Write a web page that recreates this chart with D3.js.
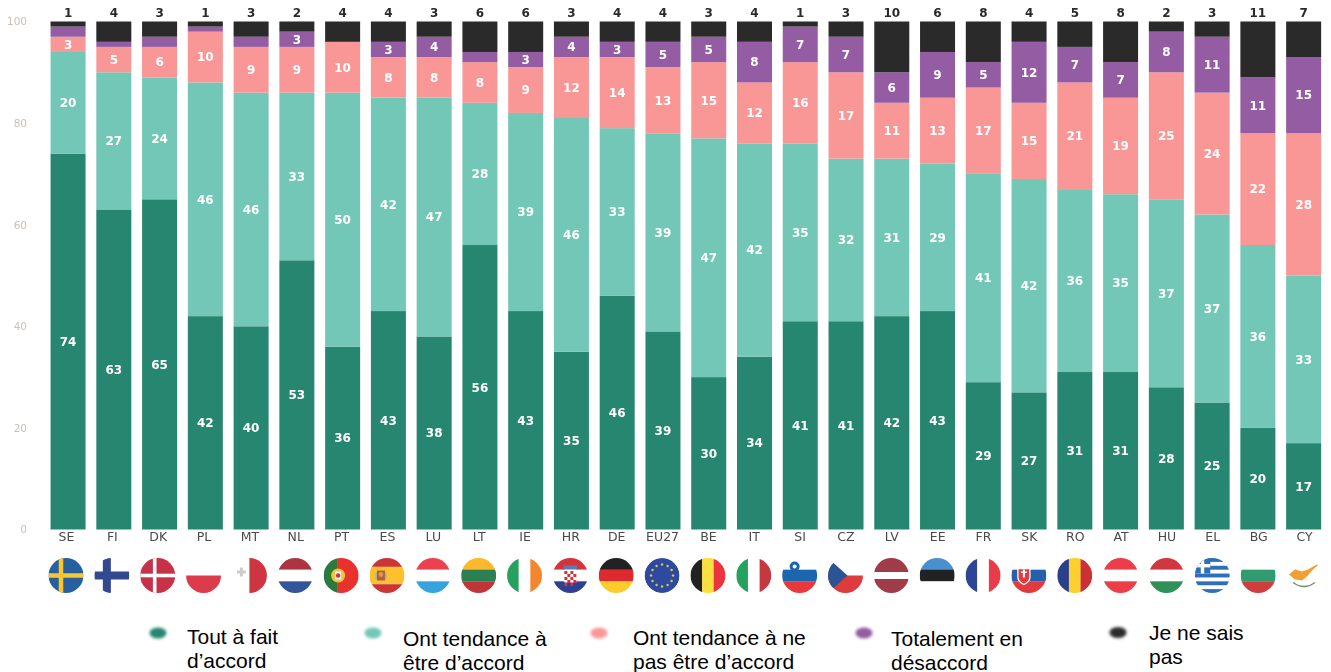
<!DOCTYPE html>
<html lang="fr">
<head>
<meta charset="utf-8">
<script src="https://cdn.jsdelivr.net/npm/d3@7"></script>
<style>
html,body{margin:0;padding:0;background:#fff;overflow:hidden}
svg{display:block}
</style>
</head>
<body>
<svg id="c" width="1331" height="672"></svg>
<script>
const countries = ["SE","FI","DK","PL","MT","NL","PT","ES","LU","LT","IE","HR","DE","EU27","BE","IT","SI","CZ","LV","EE","FR","SK","RO","AT","HU","EL","BG","CY"];
const toutAFait   = [74,63,65,42,40,53,36,43,38,56,43,35,46,39,30,34,41,41,42,43,29,27,31,31,28,25,20,17];
const plutotAccord= [20,27,24,46,46,33,50,42,47,28,39,46,33,39,47,42,35,32,31,29,41,42,36,35,37,37,36,33];
const plutotNon   = [3,5,6,10,9,9,10,8,8,8,9,12,14,13,15,12,16,17,11,13,17,15,21,19,25,24,22,28];
const totalement  = [2,1,2,1,2,3,0,3,4,2,3,4,3,5,5,8,7,7,6,9,5,12,7,7,8,11,11,15];
const neSaisPas   = [1,4,3,1,3,2,4,4,3,6,6,3,4,4,3,4,1,3,10,6,8,4,5,8,2,3,11,7];
const seriesNames = ["Tout à fait d’accord","Ont tendance à être d’accord","Ont tendance à ne pas être d’accord","Totalement en désaccord","Je ne sais pas"];
const seriesColors = ["#28866f","#72c7b6","#f99796","#945ca3","#2a2a2a"];
const legendLines = [["Tout à fait","d’accord"],["Ont tendance à","être d’accord"],["Ont tendance à ne","pas être d’accord"],["Totalement en","désaccord"],["Je ne sais","pas"]];
const yTicks = [0,20,40,60,80,100];

const allSeries = [toutAFait,plutotAccord,plutotNon,totalement,neSaisPas];
const rows = countries.map((c,i)=>{const r={code:c}; allSeries.forEach((s,k)=>r["s"+k]=s[i]); return r;});
const keys = ["s0","s1","s2","s3","s4"];
const stacked = d3.stack().keys(keys)(rows);

const svg = d3.select("#c");
const defs = svg.append("defs");
defs.append("filter").attr("id","soft").attr("x","-5%").attr("y","-5%").attr("width","110%").attr("height","110%")
  .append("feGaussianBlur").attr("stdDeviation",0.55);
defs.append("filter").attr("id","softer").attr("x","-40%").attr("y","-40%").attr("width","180%").attr("height","180%")
  .append("feGaussianBlur").attr("stdDeviation",1.4);

const y = d3.scaleLinear().domain([0,100]).range([529.5,21.5]);
const x = d3.scaleBand().domain(countries).range([45.2,1326.5]).paddingInner(0.235).paddingOuter(0.117);
const xl = d3.scalePoint().domain(countries).range([66,1304]);

const chart = svg.append("g").attr("filter","url(#soft)");

chart.selectAll("g.series").data(stacked).join("g").attr("class","series")
  .attr("fill",(d,i)=>seriesColors[i])
  .selectAll("rect").data(d=>d).join("rect")
  .attr("x",d=>x(d.data.code)).attr("width",x.bandwidth())
  .attr("y",d=>y(d[1])).attr("height",d=>y(d[0])-y(d[1]));

// values inside the bars
stacked.slice(0,4).forEach((ser,k)=>{
  chart.append("g").selectAll("text")
    .data(ser.filter(d=>(d[1]-d[0])>=3)).join("text")
    .attr("x",d=>x(d.data.code)+x.bandwidth()/2)
    .attr("y",d=>y((d[0]+d[1])/2))
    .attr("dy","0.36em").attr("text-anchor","middle")
    .attr("font-family","'DejaVu Sans'").attr("font-weight","bold").attr("font-size",12)
    .attr("fill","#fff").text(d=>d[1]-d[0]);
});
// "don't know" above the bars
chart.append("g").selectAll("text").data(rows).join("text")
  .attr("x",d=>x(d.code)+x.bandwidth()/2).attr("y",17)
  .attr("text-anchor","middle").attr("font-family","'DejaVu Sans'").attr("font-weight","bold")
  .attr("font-size",12).attr("fill","#2a2a2a").text(d=>d.s4);

// axes
const ya = chart.append("g").attr("transform","translate(33,0)")
  .call(d3.axisLeft(y).tickValues(yTicks).tickSize(0).tickPadding(6));
ya.select(".domain").remove();
ya.selectAll("text").attr("font-family","'DejaVu Sans'").attr("font-size",10.5).attr("fill","#c9c1bb");

const xa = chart.append("g").attr("transform","translate(0,529)")
  .call(d3.axisBottom(xl).tickSize(0).tickPadding(3));
xa.select(".domain").remove();
xa.selectAll("text").attr("font-family","'DejaVu Sans'").attr("font-size",12.5).attr("fill","#4a4a4a");

// flags
const W="#fff";
const hStripes = {
  PL:[[W,1],["#dc3a4b",1]], NL:[["#ad3542",1],[W,1],["#33549b",1]], LU:[["#ec4250",1],[W,1],["#35a4de",1]],
  LT:[["#fdb92f",1],["#2b7f52",1],["#bf3639",1]], HR:[["#d5313a",1],[W,1],["#2f3f94",1]], DE:[["#222",1],["#dd2c2f",1],["#fdcc2a",1]],
  SI:[[W,1],["#1f66ae",1],["#e8393a",1]], LV:[["#a03a48",2],[W,1],["#a03a48",2]], EE:[["#4a90d0",1],["#222",1],[W,1]],
  AT:[["#ec3e49",1],[W,1],["#ec3e49",1]], HU:[["#cf3940",1],[W,1],["#2f9158",1]], BG:[[W,1],["#2f9b6f",1],["#cf3c3e",1]],
  SK:[[W,1],["#2660ad",1],["#e33b3d",1]], ES:[["#cc3436",1],["#fbc22f",2],["#cc3436",1]]
};
const vStripes = {
  MT:[[W,1],["#cf3540",1]], IE:[["#25a25f",1],[W,1],["#f5862f",1]], IT:[["#25a25f",1],[W,1],["#c6393f",1]],
  BE:[["#222",1],["#fbde42",1],["#ea3540",1]], FR:[["#2f4495",1],[W,1],["#e93a48",1]], RO:[["#2c3f8a",1],["#fcd02e",1],["#cb3035",1]],
  PT:[["#2b7a3e",2],["#e9302f",3]]
};
const nordic = {SE:["#25619f","#fcc72d"],FI:[W,"#33488f"],DK:["#c8324a",W]};
const R = 17.5, flagY = 575.5;

const flags = svg.append("g").attr("filter","url(#soft)");
countries.forEach((code,i)=>{
  defs.append("clipPath").attr("id","fc"+code).append("circle").attr("r",R);
  const g = flags.append("g").attr("transform",`translate(${xl(code)},${flagY})`)
    .append("g").attr("clip-path",`url(#fc${code})`);
  const rect=(a,b,w,h,f)=>g.append("rect").attr("x",a).attr("y",b).attr("width",w).attr("height",h).attr("fill",f);
  const dot=(a,b,r,f)=>g.append("circle").attr("cx",a).attr("cy",b).attr("r",r).attr("fill",f);
  if(hStripes[code]){
    const sum=d3.sum(hStripes[code],d=>d[1]); let p=-R;
    hStripes[code].forEach(([f,n])=>{const h=n/sum*2*R; rect(-R,p,2*R,h+.2,f); p+=h;});
  }
  if(vStripes[code]){
    const sum=d3.sum(vStripes[code],d=>d[1]); let p=-R;
    vStripes[code].forEach(([f,n])=>{const w=n/sum*2*R; rect(p,-R,w+.2,2*R,f); p+=w;});
  }
  if(nordic[code]){
    const [b,c]=nordic[code]; rect(-R,-R,2*R,2*R,b);
    const t = code==="SE"?4.5:code==="FI"?8:3.6, off = code==="DK"?-3:-5;
    rect(off-t/2,-R,t,2*R,c); rect(-R,-t/2,2*R,t,c);
  }
  if(code==="MT"){ rect(-9.5,-8,3,9,"#ccc"); rect(-12.5,-5,9,3,"#ccc"); }
  if(code==="PT"){ dot(-3,0,7,"#f0c53a"); rect(-6,-4,6,8,"#f4f4f4"); dot(-3,0,2.2,"#c8313a"); }
  if(code==="ES"){ rect(-10,-5,8,10,"#b5613a"); dot(-6,-1,2.4,"#d89b4a"); rect(-11.5,-3,1.5,7,"#aaa"); rect(-2,-3,1.5,7,"#aaa"); }
  if(code==="HR"){
    rect(-6,-7,12,14,W);
    d3.range(5).forEach(r=>d3.range(4).forEach(c=>{ if((r+c)%2===0) rect(-6+c*3,-4.5+r*3,3,3,"#d5313a"); }));
    rect(-7,-10,14,4,"#5a7ab8");
  }
  if(code==="EU27"){
    dot(0,0,R,"#2d4a9e");
    d3.range(12).forEach(k=>{const a=k*Math.PI/6; dot(11*Math.cos(a),11*Math.sin(a),1.2,"#d8c84a");});
  }
  if(code==="CZ"){
    rect(-R,0,2*R,R,"#dd3a3e");
    g.append("path").attr("d",`M${-R},${-R}L2,0L${-R},${R}Z`).attr("fill","#2b5492");
  }
  if(code==="SI"){ dot(-5,-9,5,"#1f66ae"); dot(-5,-9,2,W); }
  if(code==="SK"){ g.append("path").attr("d","M-11,-7H1V2Q1,6 -5,9Q-11,6 -11,2Z").attr("fill","#e33b3d").attr("stroke",W).attr("stroke-width",1.3); rect(-6,-6,2,8,W); rect(-8,-4,6,1.5,W); }
  if(code==="EL"){
    rect(-R,-R,2*R,2*R,W);
    d3.range(5).forEach(k=>rect(-R,-R+k*7.78,2*R,3.89,"#2f6fb8"));
    rect(-R,-R,15.5,15.5,"#2f6fb8"); rect(-11.5,-R,3.4,15.5,W); rect(-R,-11.5,15.5,3.4,W);
  }
  if(code==="CY"){
    g.append("path").attr("d","M-15,-1L-9,-6L-2,-4L4,-6L9,-9L17,-13L8,-5L4,0L-2,5L-9,4Z").attr("fill","#f0a033");
    g.append("path").attr("d","M-11,7Q0,15 11,7").attr("fill","none").attr("stroke","#6f8f5f").attr("stroke-width",1.4);
  }
});

// legend
const legendItems = d3.zip(seriesNames,seriesColors,legendLines,[158,373,599,864,1118],[633,633,633,633,632.5],[187,403,633,891,1149],[644,646,645,646,640]);
const lg = svg.append("g");
lg.selectAll("ellipse").data(legendItems).join("ellipse")
  .attr("cx",d=>d[3]).attr("cy",d=>d[4]).attr("rx",8.5).attr("ry",5.5)
  .attr("fill",d=>d[1]).attr("filter","url(#softer)");
lg.selectAll("text").data(legendItems).join("text")
  .attr("font-family","'Liberation Sans'").attr("font-size",21).attr("fill","#000")
  .each(function(d){
    d3.select(this).selectAll("tspan").data(d[2]).join("tspan")
      .attr("x",d[5]).attr("y",(t,i)=>d[6]+i*24).text(t=>t);
  });
</script>
</body>
</html>
